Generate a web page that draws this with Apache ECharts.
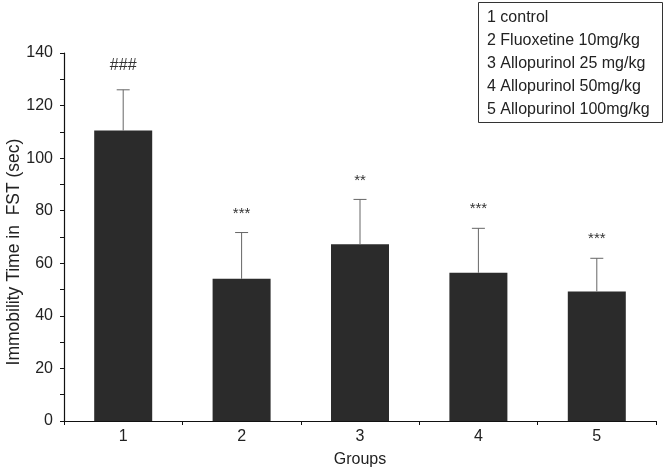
<!DOCTYPE html>
<html><head><meta charset="utf-8">
<script src="https://cdn.jsdelivr.net/npm/echarts@6/dist/echarts.min.js"></script>
<style>html,body{margin:0;padding:0;background:#fff}#c{width:665px;height:474px}</style>
</head><body><div id="c"></div>
<script>
const categories = ['1','2','3','4','5'];
const means = [110.5, 54.1, 67.2, 56.4, 49.3];
const errTops = [126.0, 71.7, 84.3, 73.3, 61.9];
const sigLabels = ['###','***','**','***','***'];
const legendLines = ['1 control','2 Fluoxetine 10mg/kg','3 Allopurinol 25 mg/kg','4 Allopurinol 50mg/kg','5 Allopurinol 100mg/kg'];
const yTicks = [0,20,40,60,80,100,120,140];
const yTitle = 'Immobility Time in  FST (sec)';

const FONT = 'Liberation Sans, Arial, sans-serif';
const chart = echarts.init(document.getElementById('c'), null, {renderer:'canvas'});
const errData = categories.map((c,i)=>[i, means[i], errTops[i]]);

chart.setOption({
  animation:false,
  textStyle:{fontFamily:FONT},
  grid:{left:64,right:9,top:53,bottom:53,containLabel:false},
  xAxis:{
    type:'category', data:categories,
    name:'Groups', nameLocation:'middle', nameGap:31,
    nameTextStyle:{fontSize:16,color:'#222',fontFamily:FONT},
    axisLine:{lineStyle:{color:'#111',width:1.2}},
    axisTick:{show:true,alignWithLabel:false,length:4,lineStyle:{color:'#111'}},
    axisLabel:{fontSize:16,color:'#222',margin:8,fontFamily:FONT}
  },
  yAxis:{
    type:'value', min:yTicks[0], max:yTicks[yTicks.length-1], interval:20,
    axisLine:{show:true,lineStyle:{color:'#111',width:1.2}},
    axisTick:{show:true,length:4,lineStyle:{color:'#111'}},
    minorTick:{show:true,splitNumber:2,length:4,lineStyle:{color:'#111'}},
    splitLine:{show:false},
    axisLabel:{fontSize:16,color:'#222',margin:11,fontFamily:FONT}
  },
  series:[
    {type:'bar', data:means, barWidth:58, itemStyle:{color:'#2b2b2b'}, z:2},
    {type:'custom', data:errData, z:3,
     renderItem:function(params, api){
       const i = api.value(0);
       const p0 = api.coord([i, api.value(1)]);
       const p1 = api.coord([i, api.value(2)]);
       const label = sigLabels[params.dataIndex];
       const isHash = label.indexOf('#') >= 0;
       return {type:'group', children:[
         {type:'line', shape:{x1:p0[0],y1:p0[1],x2:p1[0],y2:p1[1]}, style:{stroke:'#666',lineWidth:1}},
         {type:'line', shape:{x1:p1[0]-6.5,y1:p1[1],x2:p1[0]+6.5,y2:p1[1]}, style:{stroke:'#666',lineWidth:1}},
         {type:'text', style:{text:label, x:p1[0], y:p1[1]-(isHash?24:19), align:'center', verticalAlign:'middle',
           fontSize:isHash?16:15, fill:'#333', fontFamily:FONT}}
       ]};
     }}
  ],
  graphic:[
    {type:'text', x:14, y:252, rotation:Math.PI/2,
     style:{text:yTitle, fontSize:17.5, fill:'#222', fontFamily:FONT, align:'center', verticalAlign:'middle'}},
    {type:'rect', left:478, top:2, shape:{width:184,height:120}, style:{fill:'#fff',stroke:'#333',lineWidth:1}},
    ...legendLines.map((t,k)=>({type:'text', left:487, top:10+k*22.8,
      style:{text:t, fontSize:16, fill:'#222', fontFamily:FONT}}))
  ]
});
</script></body></html>
